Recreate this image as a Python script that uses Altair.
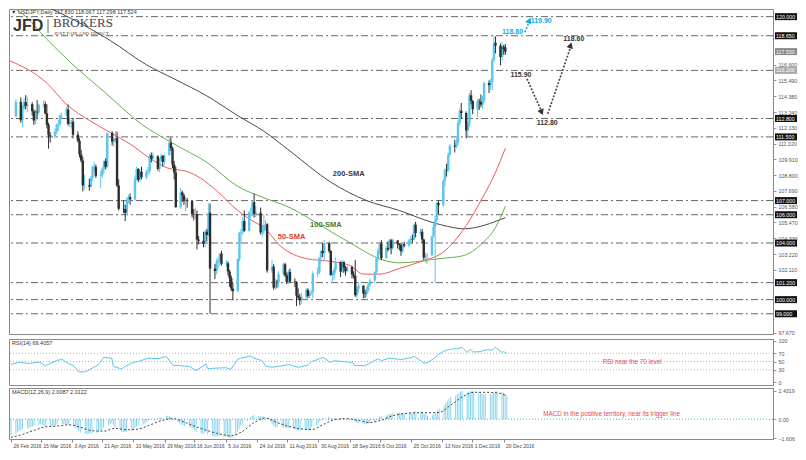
import altair as alt
import pandas as pd

FONT = "Liberation Sans"
W, HM, HR, HD = 764, 325, 46, 51
UP, DN = "#5bc6ec", "#2e2e2e"
HIST, RED, CYAN = "#8ad4ee", "#e8454f", "#14a9e1"

# ---------------- candles (weekday bars, 26 Feb 2016 - 22 Dec 2016) ----------------
opens = [
    112.98,
    113.98, 112.68, 113.52, 113.96, 113.69,
    113.81, 113.32, 112.65, 113.29, 113.23,
    113.78, 113.82, 113.16, 112.36, 111.62,
    111.54, 111.88, 112.35, 112.40, 113.00,
    113.05, 113.44, 112.41, 112.47, 112.57,
    111.66, 111.23, 110.26, 109.83, 108.07,
    108.09, 108.00, 108.61, 109.39, 109.39,
    108.75, 108.81, 109.26, 109.79, 109.40,
    111.78, 111.17, 111.36, 111.42, 108.06,
    106.42, 106.40, 106.13, 107.05, 107.25,
    107.08, 108.56, 109.23, 108.46, 109.04,
    108.66, 109.02, 109.07, 110.19, 109.95,
    110.13, 109.24, 109.92, 110.16, 109.73,
    110.20, 111.08, 110.70, 109.54, 108.99,
    106.53, 107.58, 107.36, 106.98, 107.01,
    106.96, 106.06, 106.02, 106.05, 104.24,
    104.16, 103.94, 104.80, 104.57, 106.14,
    102.19, 102.02, 102.66, 102.77, 103.25,
    102.53, 102.57, 101.98, 101.52, 100.78,
    100.60, 102.87, 104.71, 104.75, 105.56,
    104.86, 106.17, 106.19, 106.88, 106.04,
    106.14, 104.75, 104.84, 105.25, 105.33,
    102.06, 102.33, 100.85, 101.23, 101.22,
    101.82, 102.49, 101.72, 101.26, 101.96,
    101.28, 101.22, 100.28, 100.16, 99.95,
    100.21, 100.69, 100.25, 100.49, 100.51,
    101.84, 101.93, 102.97, 103.44, 103.29,
    103.99, 103.44, 101.73, 101.73, 102.10,
    102.65, 101.98, 102.67, 102.27, 102.01,
    102.30, 101.78, 101.68, 100.31, 100.76,
    100.99, 100.43, 100.39, 100.66, 101.06,
    101.35, 101.95, 102.91, 103.50, 103.97,
    102.93, 103.65, 103.55, 104.19, 103.64,
    104.18, 103.94, 103.85, 103.42, 103.92,
    103.81, 104.19, 104.29, 104.26, 105.29,
    104.71, 104.80, 104.25, 102.98, 103.08,
    103.12, 104.47, 105.16, 105.62, 106.84,
    106.67, 108.40, 109.16, 109.14, 110.24,
    110.88, 110.82, 111.08, 112.48, 113.34,
    113.19, 111.96, 112.40, 114.44, 114.04,
    113.45, 114.00, 113.97, 113.78, 114.07,
    115.30, 115.16, 115.40, 116.95, 118.15,
    117.95, 117.15, 117.88, 117.83,
]
highs = [
    114.17,
    114.30, 113.75, 114.25, 114.45, 114.35,
    113.95, 113.45, 113.45, 114.10, 113.85,
    114.10, 114.00, 113.80, 112.50, 111.85,
    112.10, 112.45, 112.70, 113.10, 113.20,
    113.60, 113.80, 112.85, 112.70, 112.85,
    111.90, 111.40, 110.60, 110.10, 108.85,
    108.55, 108.75, 109.50, 109.75, 109.55,
    109.10, 109.35, 109.85, 110.00, 111.80,
    111.90, 111.40, 111.90, 111.88, 108.50,
    107.00, 106.70, 107.20, 107.40, 107.50,
    108.75, 109.40, 109.30, 109.25, 109.40,
    109.20, 109.40, 110.30, 110.40, 110.40,
    110.20, 110.00, 110.30, 110.20, 110.30,
    111.40, 111.45, 110.80, 109.80, 109.40,
    107.90, 107.70, 107.50, 107.20, 107.20,
    107.00, 106.40, 106.50, 106.30, 104.50,
    104.80, 104.90, 105.00, 106.80, 106.80,
    102.50, 102.90, 103.00, 103.30, 103.45,
    102.80, 102.70, 102.10, 101.70, 101.20,
    102.90, 104.80, 105.00, 105.80, 106.30,
    106.30, 106.50, 107.00, 107.49, 106.60,
    106.50, 105.30, 106.00, 105.60, 105.40,
    102.80, 102.50, 101.50, 101.40, 102.00,
    102.60, 102.60, 101.90, 102.10, 102.20,
    101.50, 101.30, 100.80, 100.40, 100.50,
    100.80, 100.80, 100.60, 100.70, 102.00,
    102.30, 103.00, 103.50, 104.00, 104.20,
    104.10, 103.50, 102.00, 102.30, 103.00,
    102.70, 102.80, 102.70, 102.40, 102.40,
    102.40, 102.00, 102.80, 100.90, 101.20,
    101.00, 100.70, 100.90, 101.20, 101.50,
    102.00, 103.00, 103.60, 104.10, 104.20,
    103.80, 104.10, 104.30, 104.30, 104.30,
    104.20, 104.00, 104.00, 104.00, 104.10,
    104.30, 104.50, 104.60, 105.40, 105.50,
    105.00, 105.00, 104.30, 103.30, 103.30,
    104.50, 105.40, 105.96, 106.90, 107.00,
    108.50, 109.30, 109.60, 110.40, 111.00,
    111.30, 111.40, 112.70, 113.50, 113.90,
    113.30, 112.60, 114.60, 114.80, 114.10,
    114.20, 114.20, 114.50, 114.40, 115.40,
    115.50, 115.60, 117.10, 118.66, 118.60,
    118.10, 118.20, 118.00, 118.07,
]
lows = [
    112.87,
    112.50, 112.20, 113.40, 113.45, 113.25,
    113.00, 112.35, 112.40, 112.80, 113.05,
    113.55, 113.10, 112.10, 110.67, 111.10,
    111.40, 111.70, 111.90, 112.20, 112.80,
    112.95, 112.30, 112.20, 112.10, 111.40,
    111.10, 110.05, 109.70, 107.65, 107.80,
    107.70, 107.90, 108.40, 109.05, 108.60,
    107.90, 108.60, 108.95, 109.20, 109.30,
    110.90, 110.80, 111.10, 107.95, 106.30,
    106.10, 105.55, 106.00, 106.80, 106.70,
    107.00, 108.40, 108.30, 108.30, 108.50,
    108.50, 108.80, 108.90, 109.70, 109.80,
    109.10, 109.00, 109.80, 109.40, 109.50,
    110.20, 110.50, 109.30, 108.50, 106.50,
    106.40, 106.90, 106.70, 106.25, 106.50,
    105.80, 105.60, 105.70, 103.55, 103.90,
    103.70, 103.70, 104.10, 104.50, 99.00,
    101.45, 101.80, 102.20, 102.40, 102.40,
    102.30, 101.70, 100.90, 100.60, 99.95,
    100.55, 102.70, 104.00, 104.60, 104.80,
    104.80, 105.80, 105.90, 105.80, 105.80,
    104.60, 104.40, 104.60, 104.90, 101.90,
    101.90, 100.70, 100.70, 100.80, 100.90,
    101.70, 101.60, 101.10, 101.10, 101.20,
    100.90, 99.55, 100.00, 99.60, 99.70,
    100.00, 100.10, 100.10, 100.30, 100.10,
    101.60, 101.80, 102.60, 103.00, 102.80,
    103.30, 101.70, 101.20, 101.40, 101.90,
    101.60, 101.90, 101.90, 101.70, 101.90,
    101.50, 101.50, 100.20, 100.10, 100.50,
    100.10, 100.10, 100.20, 100.50, 100.90,
    101.20, 101.80, 102.70, 103.20, 102.80,
    102.90, 103.40, 103.50, 103.20, 103.50,
    103.60, 103.50, 103.10, 103.30, 103.70,
    103.70, 104.00, 104.00, 104.20, 104.40,
    104.50, 104.00, 102.80, 102.60, 102.50,
    103.10, 104.40, 101.19, 105.50, 106.00,
    106.60, 108.00, 108.70, 109.00, 110.10,
    110.40, 110.70, 110.90, 112.30, 112.80,
    111.40, 111.50, 112.20, 113.80, 113.10,
    112.90, 113.40, 113.60, 113.50, 113.90,
    114.60, 114.80, 114.80, 116.80, 117.40,
    116.55, 116.90, 117.30, 117.30,
]
closes = [
    113.98,
    112.68, 113.52, 113.96, 113.69, 113.81,
    113.32, 112.65, 113.29, 113.23, 113.78,
    113.82, 113.16, 112.36, 111.62, 111.54,
    111.88, 112.35, 112.40, 113.00, 113.05,
    113.44, 112.41, 112.47, 112.57, 111.66,
    111.23, 110.26, 109.83, 108.07, 108.09,
    108.00, 108.61, 109.39, 109.39, 108.75,
    108.81, 109.26, 109.79, 109.40, 111.78,
    111.17, 111.36, 111.42, 108.06, 106.42,
    106.40, 106.13, 107.05, 107.25, 107.08,
    108.56, 109.23, 108.46, 109.04, 108.66,
    109.02, 109.07, 110.19, 109.95, 110.13,
    109.24, 109.92, 110.16, 109.73, 110.20,
    111.08, 110.70, 109.54, 108.99, 106.53,
    107.58, 107.36, 106.98, 107.01, 106.96,
    106.06, 106.02, 106.05, 104.24, 104.16,
    103.94, 104.80, 104.57, 106.14, 102.19,
    102.02, 102.66, 102.77, 103.25, 102.53,
    102.57, 101.98, 101.52, 100.78, 100.60,
    102.87, 104.71, 104.75, 105.56, 104.86,
    106.17, 106.19, 106.88, 106.04, 106.14,
    104.75, 104.84, 105.25, 105.33, 102.06,
    102.33, 100.85, 101.23, 101.22, 101.82,
    102.49, 101.72, 101.26, 101.96, 101.28,
    101.22, 100.28, 100.16, 99.95, 100.21,
    100.69, 100.25, 100.49, 100.51, 101.84,
    101.93, 102.97, 103.44, 103.29, 103.99,
    103.44, 101.73, 101.73, 102.10, 102.65,
    101.98, 102.67, 102.27, 102.01, 102.30,
    101.78, 101.68, 100.31, 100.76, 100.99,
    100.43, 100.39, 100.66, 101.06, 101.35,
    101.95, 102.91, 103.50, 103.97, 102.93,
    103.65, 103.55, 104.19, 103.64, 104.18,
    103.94, 103.85, 103.42, 103.92, 103.81,
    104.19, 104.29, 104.26, 105.29, 104.71,
    104.80, 104.25, 102.98, 103.08, 103.12,
    104.47, 105.16, 105.62, 106.84, 106.67,
    108.40, 109.16, 109.14, 110.24, 110.88,
    110.82, 111.08, 112.48, 113.34, 113.19,
    111.96, 112.40, 114.44, 114.04, 113.45,
    114.00, 113.97, 113.78, 114.07, 115.30,
    115.16, 115.40, 116.95, 118.15, 117.95,
    117.15, 117.88, 117.70, 117.52,
]

# ---------------- MACD(12,26,9) main values per bar ----------------
macd_main = [
    -1.35,
    -1.22, -1.12, -1.02, -0.92, -0.84,
    -0.78, -0.74, -0.68, -0.62, -0.55,
    -0.48, -0.45, -0.47, -0.55, -0.60,
    -0.62, -0.60, -0.57, -0.50, -0.45,
    -0.40, -0.42, -0.43, -0.44, -0.50,
    -0.58, -0.70, -0.82, -1.02, -1.15,
    -1.25, -1.28, -1.25, -1.20, -1.18,
    -1.15, -1.08, -0.98, -0.93, -0.70,
    -0.55, -0.42, -0.32, -0.48, -0.72,
    -0.92, -1.06, -1.10, -1.10, -1.08,
    -0.96, -0.82, -0.74, -0.62, -0.55,
    -0.46, -0.38, -0.24, -0.14, -0.06,
    -0.06, 0.00, 0.08, 0.10, 0.16,
    0.28, 0.33, 0.26, 0.15, -0.12,
    -0.25, -0.35, -0.45, -0.50, -0.55,
    -0.65, -0.72, -0.76, -0.95, -1.10,
    -1.22, -1.22, -1.20, -1.05, -1.28,
    -1.42, -1.48, -1.50, -1.46, -1.44,
    -1.42, -1.45, -1.50, -1.57, -1.606,
    -1.40, -1.08, -0.82, -0.54, -0.38,
    -0.16, 0.02, 0.20, 0.28, 0.36,
    0.28, 0.24, 0.24, 0.24, -0.02,
    -0.20, -0.44, -0.58, -0.68, -0.70,
    -0.66, -0.70, -0.76, -0.74, -0.78,
    -0.80, -0.88, -0.94, -0.98, -0.98,
    -0.95, -0.94, -0.91, -0.87, -0.70,
    -0.55, -0.36, -0.16, -0.03, 0.14,
    0.20, 0.14, 0.07, 0.05, 0.08,
    0.04, 0.07, 0.06, 0.03, 0.02,
    -0.02, -0.06, -0.20, -0.27, -0.30,
    -0.36, -0.40, -0.40, -0.37, -0.32,
    -0.22, -0.08, 0.08, 0.24, 0.25,
    0.32, 0.36, 0.45, 0.48, 0.55,
    0.55, 0.55, 0.52, 0.52, 0.50,
    0.52, 0.54, 0.55, 0.65, 0.68,
    0.70, 0.65, 0.50, 0.38, 0.30,
    0.35, 0.45, 0.58, 0.78, 0.92,
    1.15, 1.38, 1.55, 1.74, 1.92,
    2.04, 2.14, 2.28, 2.38, 2.42,
    2.36, 2.30, 2.40, 2.4319, 2.38,
    2.33, 2.28, 2.21, 2.16, 2.20,
    2.18, 2.16, 2.26, 2.40, 2.42,
    2.32, 2.26, 2.14, 2.0087,
]
# signal line, read once a week (Fridays, last point 22 Dec)
signal_vals = [-1.55, -1.30, -0.95, -0.65, -0.58, -0.48, -0.68, -0.98, -1.02, -0.78,
               -0.90, -0.84, -0.50, -0.12, 0.05, -0.25, -0.65, -0.98, -1.25, -1.42,
               -1.05, -0.30, 0.10, -0.28, -0.60, -0.82, -0.88, -0.45, -0.02, 0.05,
               -0.10, -0.28, -0.08, 0.30, 0.48, 0.56, 0.55, 0.58, 1.20, 1.90,
               2.30, 2.30, 2.26, 2.0122]

# ---------------- RSI(14) read points ----------------
rsi_dates = ["2016-02-26", "2016-03-02", "2016-03-08", "2016-03-14", "2016-03-16", "2016-03-18",
             "2016-03-25", "2016-03-28", "2016-03-31", "2016-04-04", "2016-04-07", "2016-04-11",
             "2016-04-18", "2016-04-20", "2016-04-22", "2016-04-27", "2016-04-28", "2016-05-03",
             "2016-05-05", "2016-05-10", "2016-05-13", "2016-05-19", "2016-05-25", "2016-05-30",
             "2016-06-03", "2016-06-13", "2016-06-17", "2016-06-23", "2016-06-24", "2016-07-05",
             "2016-07-08", "2016-07-12", "2016-07-14", "2016-07-20", "2016-07-22", "2016-07-27",
             "2016-07-29", "2016-08-02", "2016-08-10", "2016-08-12", "2016-08-18", "2016-08-24",
             "2016-08-26", "2016-09-02", "2016-09-06", "2016-09-09", "2016-09-14", "2016-09-20",
             "2016-09-21", "2016-09-27", "2016-09-30", "2016-10-05", "2016-10-07", "2016-10-12",
             "2016-10-19", "2016-10-25", "2016-10-27", "2016-10-28", "2016-11-02", "2016-11-04",
             "2016-11-08", "2016-11-09", "2016-11-11", "2016-11-15", "2016-11-18", "2016-11-22",
             "2016-11-25", "2016-11-28", "2016-11-30", "2016-12-02", "2016-12-06", "2016-12-09",
             "2016-12-13", "2016-12-15", "2016-12-16", "2016-12-19", "2016-12-20", "2016-12-22"]
rsi_vals = [43, 48, 45, 49, 44, 40,
            53, 55, 47, 40, 25, 25,
            40, 47, 60, 58, 38, 32,
            38, 48, 50, 58, 57, 62,
            41, 38, 28, 44, 33, 35,
            31, 55, 58, 63, 58, 52,
            39, 36, 41, 43, 36, 42,
            50, 60, 48, 52, 50, 47,
            40, 40, 45, 57, 52, 58,
            55, 59, 63, 60, 46, 47,
            58, 62, 68, 77, 80, 81,
            84, 72, 79, 73, 74, 78,
            78, 84, 82, 72, 74, 69.4]

# ---------------- moving averages ----------------
sma50_dates = ["2016-02-22", "2016-03-16", "2016-03-28", "2016-04-12", "2016-04-24", "2016-05-06",
               "2016-05-18", "2016-05-29", "2016-06-10", "2016-06-18", "2016-06-28", "2016-07-11",
               "2016-07-21", "2016-07-27", "2016-08-06", "2016-08-22", "2016-09-06", "2016-09-18",
               "2016-09-26", "2016-10-06", "2016-10-18", "2016-11-03", "2016-11-12", "2016-11-26",
               "2016-12-08", "2016-12-16", "2016-12-22"]
sma50_vals = [116.9, 115.3, 113.8, 112.6, 111.8, 111.0,
              110.0, 109.3, 109.05, 108.6, 107.7, 106.3,
              105.5, 105.1, 103.8, 102.9, 102.7, 102.4,
              101.8, 101.8, 102.2, 102.8, 103.2, 104.9,
              107.2, 109.0, 110.7]
sma100_dates = ["2016-02-22", "2016-03-01", "2016-03-16", "2016-04-01", "2016-04-20", "2016-05-13",
                "2016-06-02", "2016-06-22", "2016-07-11", "2016-07-27", "2016-08-12", "2016-08-30",
                "2016-09-18", "2016-10-08", "2016-10-18", "2016-11-12", "2016-11-26", "2016-12-08",
                "2016-12-16", "2016-12-22"]
sma100_vals = [120.8, 120.2, 118.4, 116.6, 114.7, 112.4,
               111.0, 109.7, 108.0, 107.2, 106.5, 105.3,
               104.0, 102.8, 102.6, 102.9, 103.1, 104.0,
               105.1, 106.6]
sma200_dates = ["2016-03-10", "2016-04-01", "2016-04-24", "2016-05-16", "2016-06-02", "2016-06-22",
                "2016-07-11", "2016-07-27", "2016-08-12", "2016-09-06", "2016-09-28", "2016-10-18",
                "2016-11-06", "2016-11-20", "2016-11-26", "2016-12-22"]
sma200_vals = [121.0, 119.8, 118.3, 116.6, 115.6, 114.4,
               113.0, 111.9, 110.5, 108.3, 107.0, 106.3,
               105.5, 105.1, 105.0, 105.8]

# ---------------- levels, ticks, labels ----------------
levels = [120.0, 118.65, 116.2, 112.8, 111.5, 107.0, 106.0, 104.0, 101.2, 100.0, 99.0]
box_prices = [120.0, 118.65, 117.53, 116.2, 112.8, 111.5, 107.0, 106.0, 104.0, 101.2, 100.0, 99.0]
box_labels = ["120.000", "118.650", "117.530", "116.200", "112.800", "111.500", "107.000",
              "106.000", "104.000", "101.200", "100.000", "99.000"]
box_colors = ["#111111", "#111111", "#8a8a8a", "#a8a8a8", "#111111", "#111111", "#111111",
              "#111111", "#111111", "#111111", "#111111", "#111111"]
price_ticks = [97.67, 102.11, 103.22, 104.33, 105.47, 106.58, 107.69,
               108.8, 109.91, 111.02, 112.13, 113.24, 114.38, 115.49, 116.6]
date_ticks = ["2016-02-26", "2016-03-15", "2016-04-03", "2016-04-21", "2016-05-10", "2016-05-29",
              "2016-06-16", "2016-07-05", "2016-07-24", "2016-08-11", "2016-08-30", "2016-09-18",
              "2016-10-06", "2016-10-25", "2016-11-13", "2016-12-01", "2016-12-20"]

sma_note_texts = ["200-SMA", "100-SMA", "50-SMA"]
sma_note_dates = ["2016-09-17", "2016-09-03", "2016-08-13"]
sma_note_prices = [108.85, 105.3, 104.46]
sma_note_colors = ["#3a3a3a", "#3d7a2e", "#e03a3a"]

note_texts = ["118.80", "119.90", "115.90", "112.80", "118.60"]
note_dates = ["2016-12-26T10:00:00Z", "2017-01-13T00:00:00Z", "2016-12-31T14:00:00Z",
              "2017-01-16T16:00:00Z", "2017-02-02T00:00:00Z"]
note_prices = [118.9, 119.70, 115.88, 112.5, 118.43]
note_colors = [CYAN, CYAN, "#333333", "#333333", "#333333"]

arrow_seg = ["a", "a", "b", "b", "c", "c"]
arrow_dates = ["2017-01-04T06:00:00Z", "2017-01-13T00:00:00Z", "2017-01-17T00:00:00Z",
               "2017-01-31T00:00:00Z", "2017-01-03T00:00:00Z", "2017-01-05T12:00:00Z"]
arrow_prices = [115.61, 113.35, 113.13, 117.85, 118.90, 119.62]
arrow_colors = ["#444444", "#444444", "#444444", "#444444", CYAN, CYAN]
head_dates = ["2017-01-13T06:00:00Z", "2017-01-31T00:00:00Z", "2017-01-05T18:00:00Z"]
head_prices = [113.24, 117.97, 119.73]
head_angles = [157, 18, 25]
head_colors = ["#333333", "#333333", CYAN]

# ---------------- build ----------------
n = min(len(opens), len(highs), len(lows), len(closes), len(macd_main))
dates = [d.strftime("%Y-%m-%d") for d in pd.bdate_range("2016-02-26", "2016-12-22")]
n = min(n, len(dates))
candles = pd.DataFrame({
    "date": dates[:n], "open": opens[:n], "high": highs[:n], "low": lows[:n], "close": closes[:n],
})
is_up = candles["close"] >= candles["open"]
up_df = candles[is_up]
dn_df = candles[~is_up]
macd_df = pd.DataFrame({"date": dates[:n], "macd": macd_main[:n]})
sig_dates = [d.strftime("%Y-%m-%d") for d in pd.date_range("2016-02-26", periods=43, freq="7D")] + ["2016-12-22"]
m = min(len(sig_dates), len(signal_vals))
sig_df = pd.DataFrame({"date": sig_dates[:m], "sig": signal_vals[:m]})
k = min(len(rsi_dates), len(rsi_vals))
rsi_df = pd.DataFrame({"date": rsi_dates[:k], "rsi": rsi_vals[:k]})


def dt(s, h=0):
    y, mo, d = (int(p) for p in s.split("-"))
    return alt.DateTime(year=y, month=mo, date=d, hours=h, utc=True)


XS = alt.Scale(type="utc", domain=[dt("2016-02-24", 20), dt("2017-06-01")])
YS_MAIN = alt.Scale(domain=[97.57, 120.54], nice=False, zero=False)
YS_RSI = alt.Scale(domain=[-6.8, 104.5], nice=False, zero=False)
YS_MACD = alt.Scale(domain=[-1.69, 2.67], nice=False, zero=False)

axis_common = dict(title=None, grid=False, labelFontSize=5.3, labelColor="#555555", labelFont=FONT,
                   tickSize=3, tickColor="#999999", domainColor="#888888", labelPadding=2,
                   labelOverlap=False)
main_axis = alt.Axis(orient="right", values=price_ticks, format=".3f", **axis_common)
rsi_axis = alt.Axis(orient="right", values=[0, 30, 50, 70, 100], **axis_common)
macd_axis = alt.Axis(orient="right", values=[-1.606, 0, 2.4319],
                     labelExpr="datum.value == 0 ? '0.00' : format(datum.value, '.4~f')", **axis_common)
date_axis = alt.Axis(values=[dt(s) for s in date_ticks],
                     labelExpr="utcFormat(datum.value, '%-d %b %Y')",
                     labelAlign="left", labelOffset=2, labelFontSize=5, labelColor="#444444",
                     labelFont=FONT, tickSize=3, tickColor="#888888", domainColor="#888888",
                     labelPadding=1, title=None, grid=False, labelOverlap=False, labelFlush=False)


def XN(f="date:T"):
    return alt.X(f, scale=XS, axis=None)


def XD(f="date:T"):
    return alt.X(f, scale=XS, axis=date_axis)


def YM(f):
    return alt.Y(f, scale=YS_MAIN, axis=main_axis)


def YR(f):
    return alt.Y(f, scale=YS_RSI, axis=rsi_axis)


def YD(f):
    return alt.Y(f, scale=YS_MACD, axis=macd_axis)


one = pd.DataFrame({"a": [0]})

lv = alt.Chart(pd.DataFrame({"price": levels})).mark_rule(
    color="#666666", strokeWidth=1, strokeDash=[7, 3, 2, 3]).encode(y=YM("price:Q"))


def candle_layers(df, col):
    wick = alt.Chart(df).mark_rule(strokeWidth=1, clip=True, color=col).encode(
        x=XN(), y=YM("low:Q"), y2="high:Q")
    body = alt.Chart(df).mark_bar(size=2.4, clip=True, color=col).encode(
        x=XN(), y=YM("open:Q"), y2="close:Q")
    return [wick, body]


def sma_layer(ds, vs, col):
    return alt.Chart(pd.DataFrame({"date": ds, "v": vs})).mark_line(
        strokeWidth=1, interpolate="monotone", clip=True, color=col).encode(x=XN(), y=YM("v:Q"))


sma_layers = [sma_layer(sma200_dates, sma200_vals, "#4a4a4a"),
              sma_layer(sma100_dates, sma100_vals, "#62b24e"),
              sma_layer(sma50_dates, sma50_vals, "#f05a5a")]

sma_notes = alt.Chart(pd.DataFrame({"date": sma_note_dates, "price": sma_note_prices, "t": sma_note_texts,
                                    "c": sma_note_colors})).mark_text(
    fontSize=7.5, fontWeight="bold", font=FONT).encode(
    x=XN(), y=YM("price:Q"), text="t:N", color=alt.Color("c:N", scale=None))
notes = alt.Chart(pd.DataFrame({"date": note_dates, "price": note_prices, "t": note_texts,
                                "c": note_colors})).mark_text(
    fontSize=7, fontWeight="bold", font=FONT).encode(
    x=XN(), y=YM("price:Q"), text="t:N", color=alt.Color("c:N", scale=None))
arrows = alt.Chart(pd.DataFrame({"seg": arrow_seg, "date": arrow_dates, "price": arrow_prices,
                                 "c": arrow_colors})).mark_line(strokeWidth=1.6, strokeDash=[2, 1.5]).encode(
    x=XN(), y=YM("price:Q"), detail="seg:N", color=alt.Color("c:N", scale=None))
heads = alt.Chart(pd.DataFrame({"date": head_dates, "price": head_prices, "ang": head_angles,
                                "c": head_colors})).mark_point(
    shape="triangle-up", filled=True, size=45, opacity=1).encode(
    x=XN(), y=YM("price:Q"), angle=alt.Angle("ang:Q", scale=None), color=alt.Color("c:N", scale=None))
box_df = pd.DataFrame({"price": box_prices, "label": box_labels, "c": box_colors})
boxes = alt.Chart(box_df).mark_tick(orient="horizontal", size=22, thickness=7, opacity=1).encode(
    x=alt.value(W + 13), y=YM("price:Q"), color=alt.Color("c:N", scale=None))
box_txt = alt.Chart(box_df).mark_text(align="left", baseline="middle", fontSize=5.3, color="white",
                                      font=FONT).encode(x=alt.value(W + 3), y=YM("price:Q"), text="label:N")

header = alt.Chart(one).mark_text(text="\u25bc USDJPY,Daily  117.830 118.067 117.298 117.524", align="left",
                                  baseline="top", fontSize=5.5, color="#333333", font=FONT).encode(
    x=alt.value(2), y=alt.value(1))
jfd = alt.Chart(one).mark_text(text="JFD", align="left", baseline="top", fontSize=16, fontWeight="bold",
                               color="#333333", font=FONT).encode(x=alt.value(4), y=alt.value(9))
sep = alt.Chart(one).mark_rule(color="#666666", strokeWidth=1).encode(
    x=alt.value(39), y=alt.value(10), y2=alt.value(24))
brokers = alt.Chart(one).mark_text(text="BROKERS", align="left", baseline="top", fontSize=13,
                                   color="#444444", font="Liberation Serif").encode(x=alt.value(44), y=alt.value(8))
tagline = alt.Chart(one).mark_text(text="JUST FAIR AND DIRECT", align="left", baseline="top", fontSize=5,
                                   color="#444444", font="Liberation Serif").encode(x=alt.value(45), y=alt.value(22))

main = alt.layer(lv, *sma_layers, *candle_layers(up_df, UP), *candle_layers(dn_df, DN),
                 sma_notes, notes, arrows, heads, boxes, box_txt,
                 header, jfd, sep, brokers, tagline).properties(width=W, height=HM)

rsi_lv = alt.Chart(pd.DataFrame({"v": [30, 50, 70]})).mark_rule(
    color="#b5b5b5", strokeDash=[1, 2]).encode(y=YR("v:Q"))
rsi_line = alt.Chart(rsi_df).mark_line(color=UP, strokeWidth=1).encode(x=XN(), y=YR("rsi:Q"))
rsi_title = alt.Chart(one).mark_text(text="RSI(14) 69.4057", align="left", baseline="top", fontSize=5.5,
                                     color="#333333", font=FONT).encode(x=alt.value(3), y=alt.value(2))
rsi_note = alt.Chart(pd.DataFrame({"date": ["2017-02-18"], "v": [49], "t": ["RSI near the 70 level"]})).mark_text(
    align="left", baseline="middle", fontSize=6.3, color=RED, font=FONT).encode(
    x=XN(), y=YR("v:Q"), text="t:N")
rsi = alt.layer(rsi_lv, rsi_line, rsi_title, rsi_note).properties(width=W, height=HR)

hist = alt.Chart(macd_df).mark_rule(color=HIST, strokeWidth=1).encode(
    x=XD(), y=YD("macd:Q"), y2=alt.datum(0))
zero = alt.Chart(pd.DataFrame({"z": [0]})).mark_rule(color="#2db4e6", strokeDash=[1, 2]).encode(y=YD("z:Q"))
sig = alt.Chart(sig_df).mark_line(color="#444444", strokeWidth=1, strokeDash=[2, 2],
                                  interpolate="monotone").encode(x=XD(), y=YD("sig:Q"))
macd_title = alt.Chart(one).mark_text(text="MACD(12,26,9) 2.0087 2.0122", align="left", baseline="top",
                                      fontSize=5.5, color="#333333", font=FONT).encode(
    x=alt.value(3), y=alt.value(2))
macd_note = alt.Chart(pd.DataFrame({"date": ["2017-01-13"], "v": [0.42],
                                    "t": ["MACD in the positive territory, near its trigger line"]})).mark_text(
    align="left", baseline="middle", fontSize=6.3, color=RED, font=FONT).encode(
    x=XD(), y=YD("v:Q"), text="t:N")
macd = alt.layer(hist, zero, sig, macd_title, macd_note).properties(width=W, height=HD)

chart = alt.vconcat(main, rsi, macd, spacing=1).properties(
    padding={"left": 0, "top": 0, "right": 0, "bottom": 0}, background="white"
).configure_view(stroke="#8a8a8a", strokeWidth=1).configure_text(font=FONT)

chart.save("out.html", embed_options={"renderer": "svg", "actions": False})
